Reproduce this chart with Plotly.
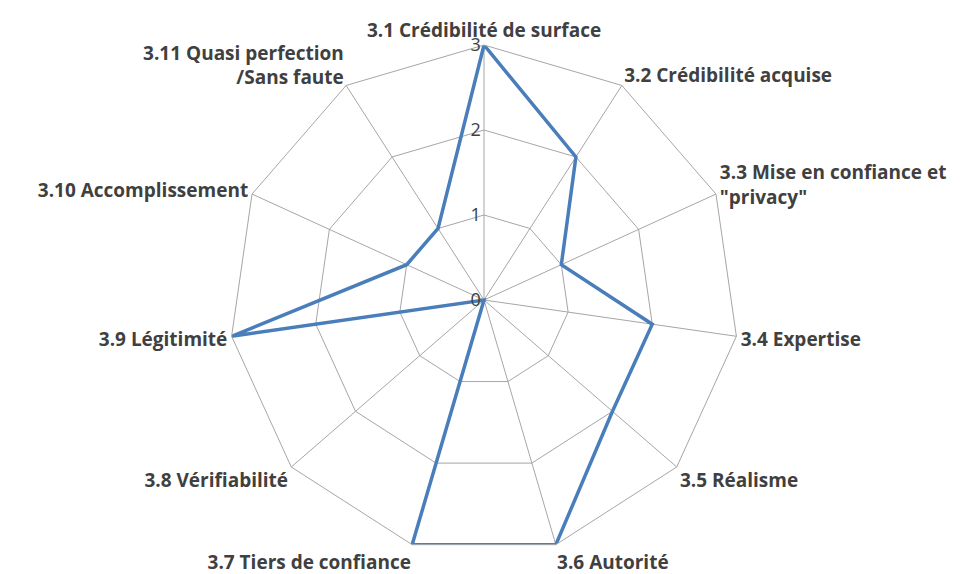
import plotly.graph_objects as go

categories = [
    "3.1 Crédibilité de surface",
    "3.2 Crédibilité acquise",
    "3.3 Mise en confiance et<br>\"privacy\"",
    "3.4 Expertise",
    "3.5 Réalisme",
    "3.6 Autorité",
    "3.7 Tiers de confiance",
    "3.8 Vérifiabilité",
    "3.9 Légitimité",
    "3.10 Accomplissement",
    "3.11 Quasi perfection<br>/Sans faute",
]
values = [3, 2, 1, 2, 2, 3, 3, 0, 3, 1, 1]
radial_ticks = [0, 1, 2, 3]

fig = go.Figure()
fig.add_trace(go.Scatterpolar(
    r=values + values[:1],
    theta=categories + categories[:1],
    mode="lines",
    line=dict(color="#4a7ebb", width=3.5),
    showlegend=False,
))

fig.update_layout(
    width=974, height=574,
    margin=dict(l=221, r=243, t=37, b=27),
    paper_bgcolor="white",
    font=dict(family="Open Sans", size=19, color="#404040"),
    polar=dict(
        bgcolor="white",
        gridshape="linear",
        angularaxis=dict(
            direction="clockwise",
            rotation=90,
            showline=True,
            linecolor="#a6a6a6",
            linewidth=1,
            gridcolor="#a6a6a6",
            gridwidth=1,
            ticks="",
            tickfont=dict(family="Open Sans", size=19, color="#404040", weight="bold"),
        ),
        radialaxis=dict(
            range=[0, 3],
            tickvals=radial_ticks,
            angle=90,
            tickangle=90,
            side="counterclockwise",
            showline=False,
            gridcolor="#a6a6a6",
            gridwidth=1,
            ticks="",
            tickfont=dict(family="Open Sans", size=18, color="#404040"),
        ),
    ),
)

fig.write_html("out.html")
